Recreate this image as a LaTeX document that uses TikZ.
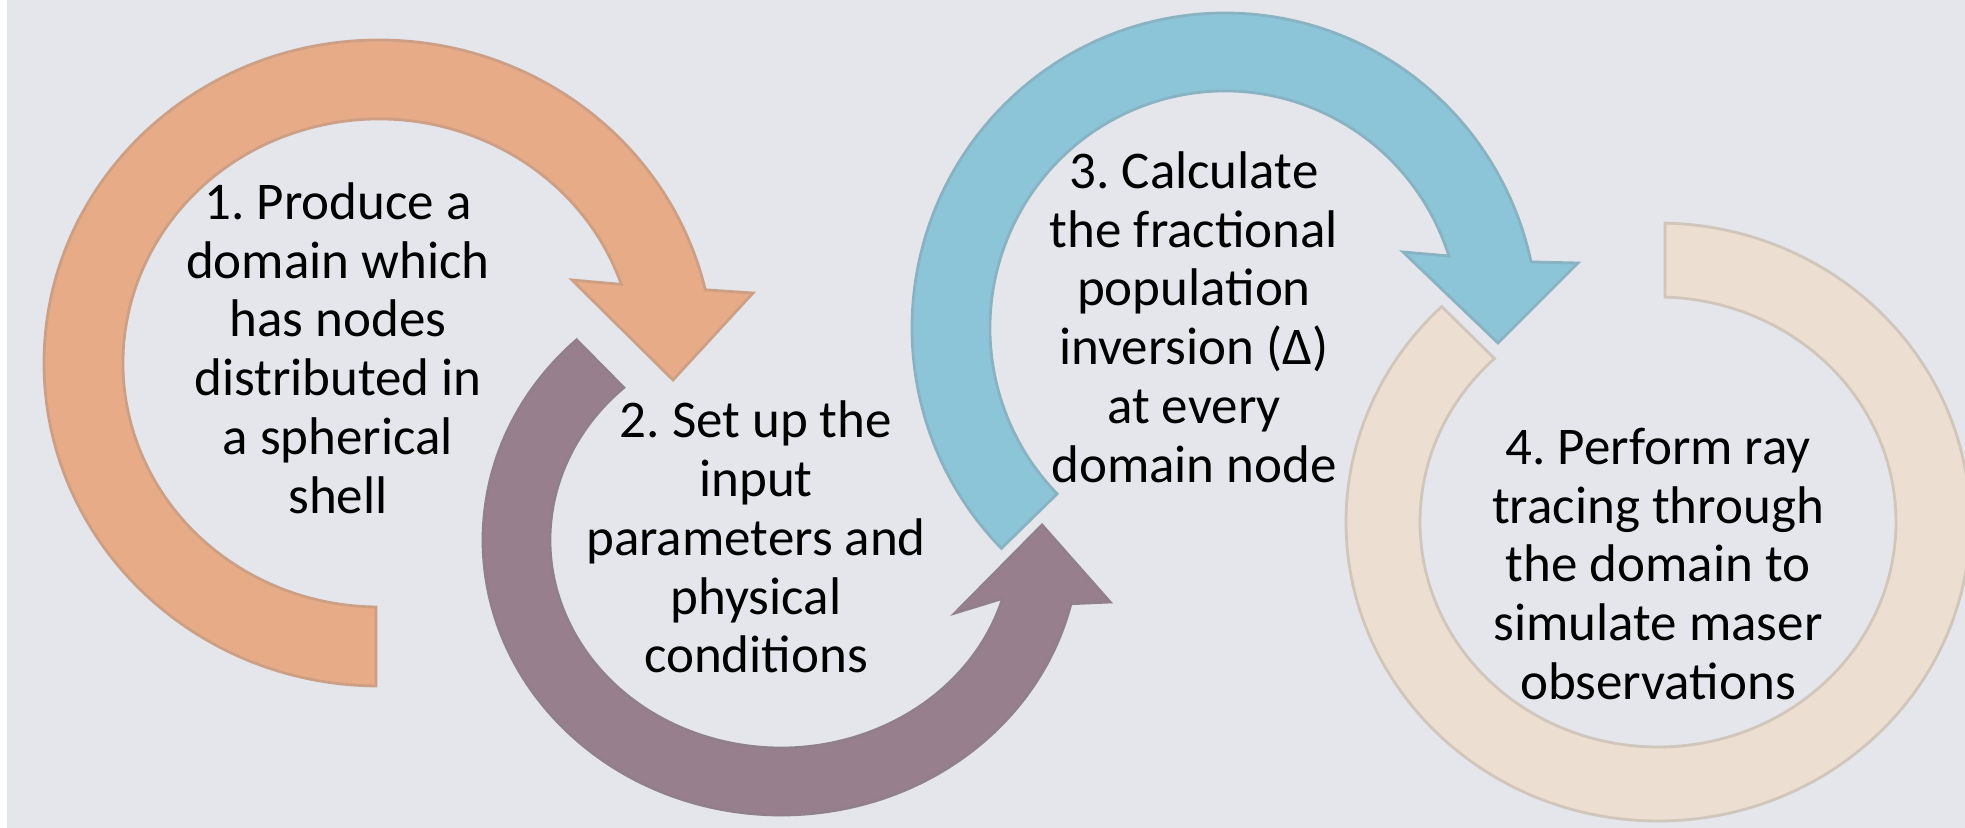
\documentclass[tikz,border=0pt]{standalone}
\usepackage{fontspec}
\setmainfont{Carlito}
\usetikzlibrary{calc}
\frenchspacing

\definecolor{bgGray}{RGB}{228,230,235}
\definecolor{arrowOrange}{RGB}{231,171,136}
\definecolor{arrowMauve}{RGB}{151,127,141}
\definecolor{arrowBlue}{RGB}{140,196,216}
\definecolor{arrowBeige}{RGB}{236,222,208}

\tikzset{
  stepText/.style={align=center, inner sep=0pt, font=\fontsize{26.5}{29.4}\selectfont},
  ring/.style={line width=1.4, line join=miter},
}

\begin{document}
\begin{tikzpicture}[x=0.5pt, y=-0.5pt]
  \fill[bgGray] (0,0) rectangle (1965,828);
  \fill[white] (0,0) rectangle (7,828);
  \useasboundingbox (0,0) rectangle (1965,828);

  % centres of the rings
  \coordinate (c1) at (379,363);
  \coordinate (c2) at (781,540);
  \coordinate (c3) at (1225,328);
  \coordinate (c4) at (1658,522);

  % 1: orange arrow
  \filldraw[ring, fill=arrowOrange, draw=arrowOrange!75!gray]
    ([shift={(90.5:335 and 323)}]c1) arc[start angle=90.5, end angle=346.9, x radius=335, y radius=323]
    -- (753,293) -- (673,380) -- (572,280)
    -- ([shift={(341.2:256 and 244)}]c1) arc[start angle=341.2, end angle=90.7, x radius=256, y radius=244]
    -- cycle;

  % 2: mauve arrow
  \filldraw[ring, fill=arrowMauve, draw=arrowMauve!75!gray]
    ([shift={(226.7:298 and 275)}]c2) arc[start angle=226.7, end angle=13.4, x radius=298, y radius=275]
    -- (1110,602) -- (1042,525) -- (955,613)
    -- ([shift={(16.3:231 and 208)}]c2) arc[start angle=16.3, end angle=227.1, x radius=231, y radius=208]
    -- cycle;

  % 3: blue arrow
  \filldraw[ring, fill=arrowBlue, draw=arrowBlue!75!gray]
    ([shift={(135.6:313 and 315)}]c3) arc[start angle=135.6, end angle=347.9, x radius=313, y radius=315]
    -- (1578,263) -- (1498,343) -- (1403,252)
    -- ([shift={(342.3:235 and 237)}]c3) arc[start angle=342.3, end angle=135.6, x radius=235, y radius=237]
    -- cycle;

  % 4: beige ring, no head
  \filldraw[ring, fill=arrowBeige, draw=arrowBeige!75!gray]
    ([shift={(-88.7:312 and 299)}]c4) arc[start angle=-88.7, end angle=226.1, x radius=312, y radius=299]
    -- ([shift={(226.6:238 and 225)}]c4) arc[start angle=226.6, end angle=-88.3, x radius=238, y radius=225]
    -- cycle;

  \node[stepText] (step1) at (338,348) {1. Produce a\\domain which\\has nodes\\distributed in\\a spherical\\shell};
  \node[stepText] (step2) at (756,537) {2. Set up the\\input\\parameters and\\physical\\conditions};
  \node[stepText] (step3) at (1194,317) {3. Calculate\\the fractional\\population\\inversion (Δ)\\at every\\domain node};
  \node[stepText] (step4) at (1658,564) {4. Perform ray\\tracing through\\the domain to\\simulate maser\\observations};
\end{tikzpicture}
\end{document}
